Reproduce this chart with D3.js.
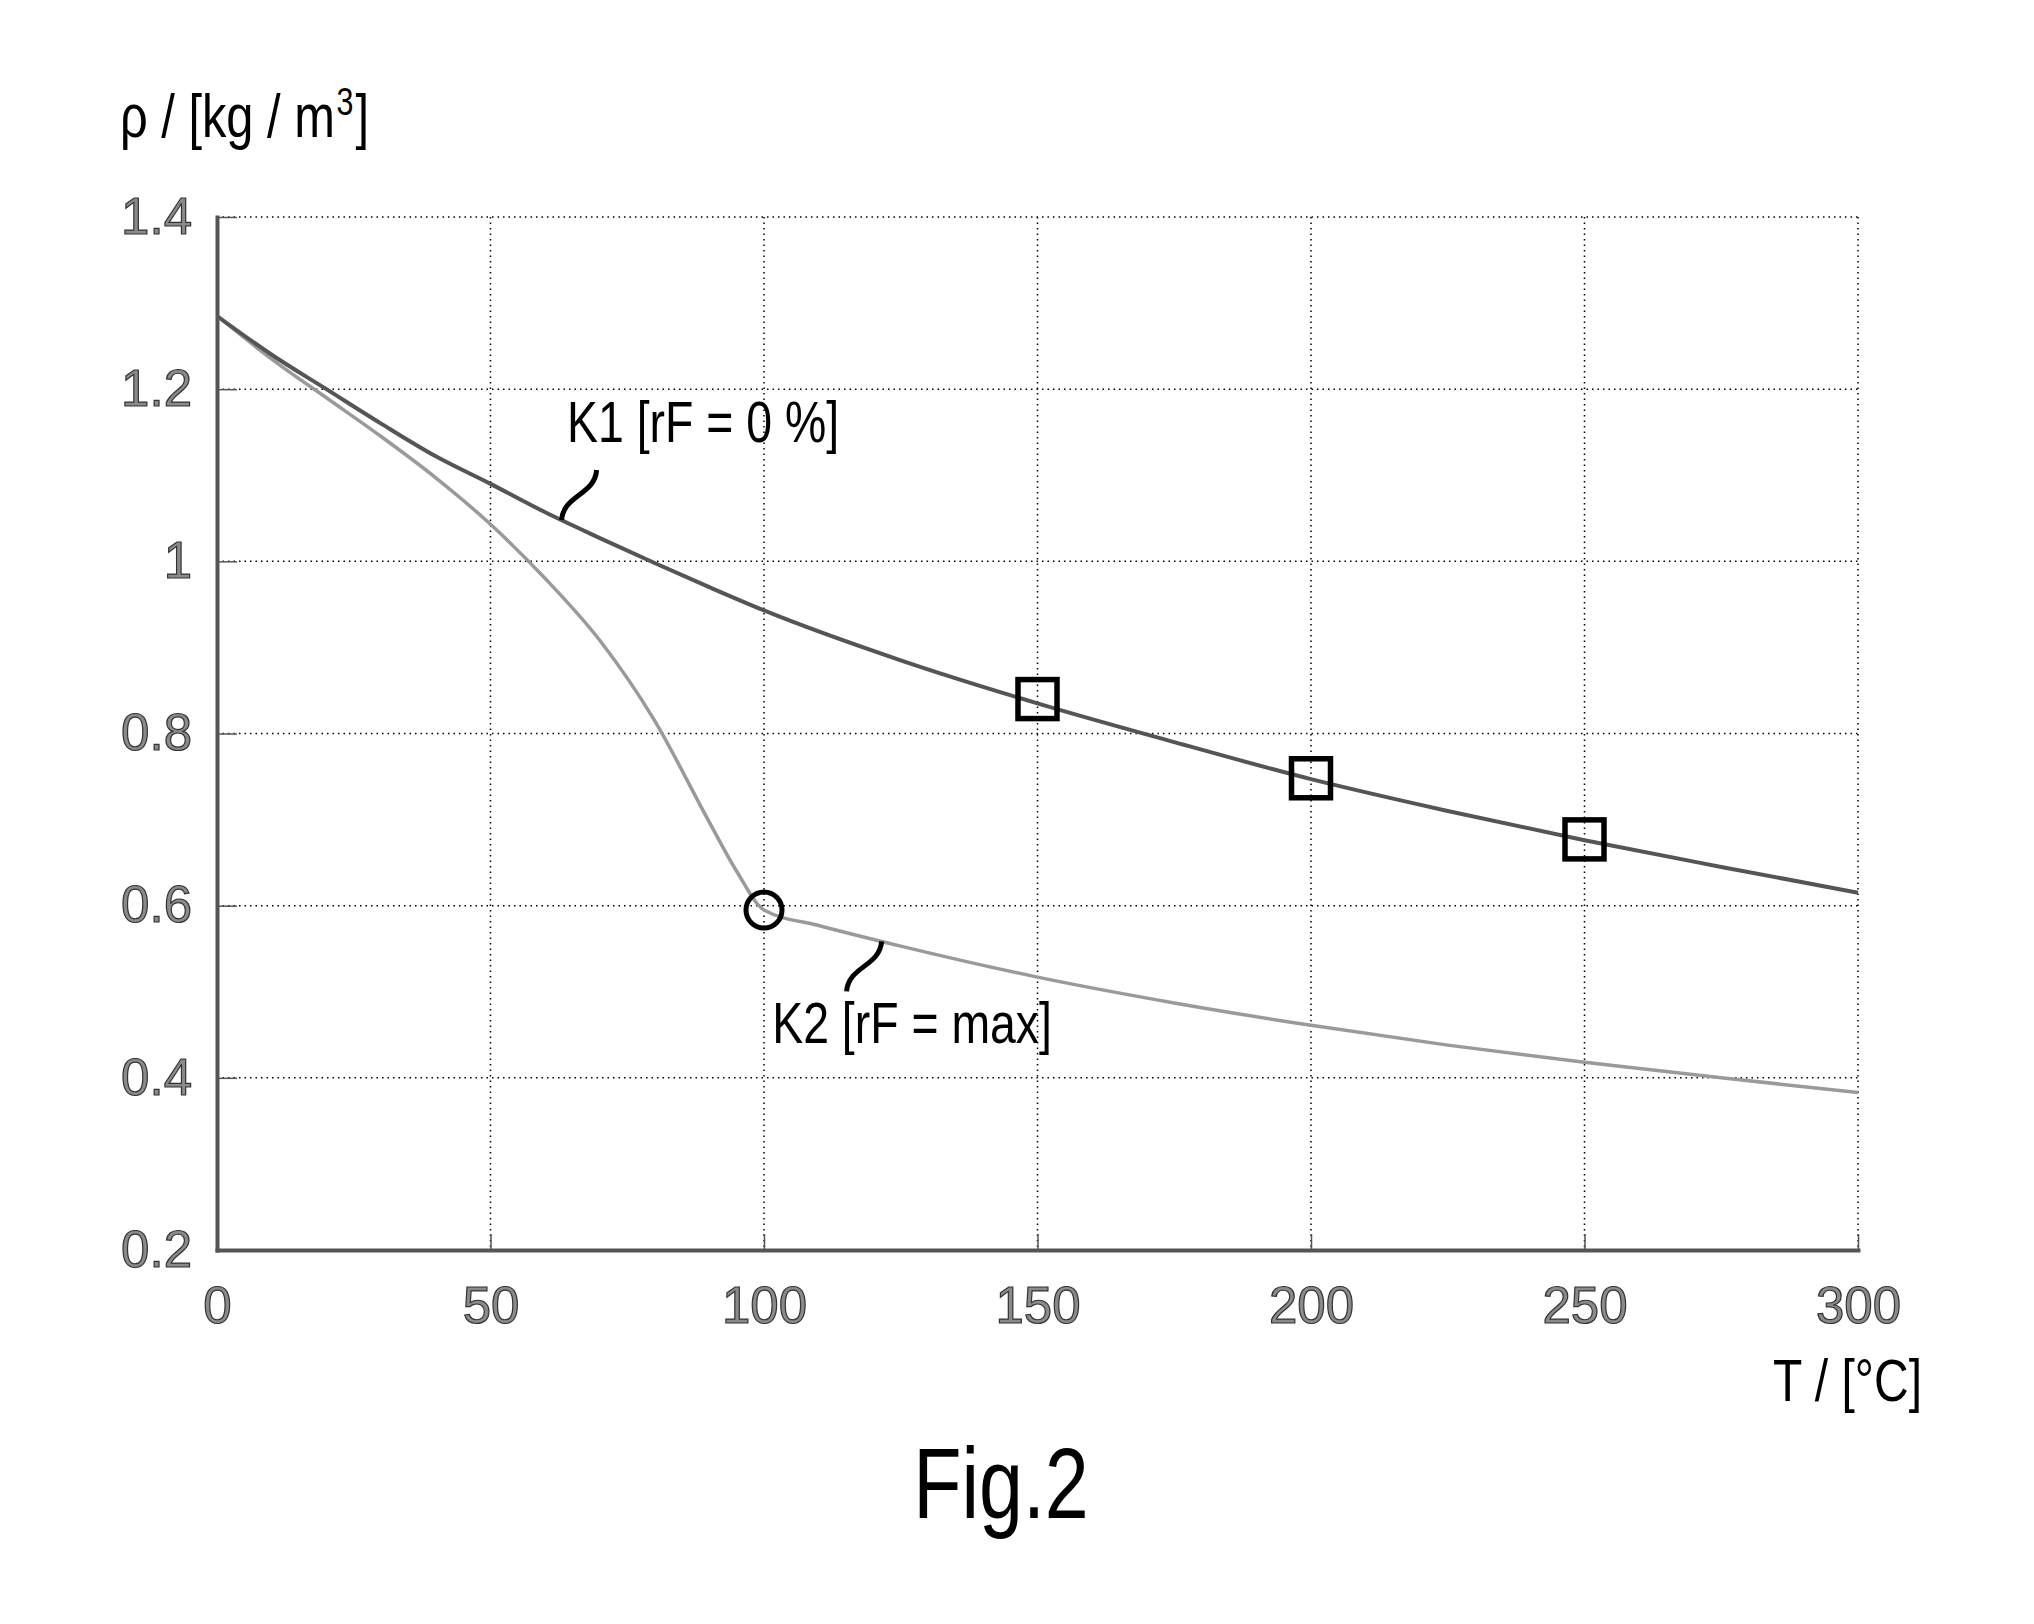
<!DOCTYPE html>
<html>
  <head>
    <meta charset="utf-8">
    <title>Fig.2</title>
    <script type="text/javascript" src="https://d3js.org/d3.v7.min.js"></script>
    <style>
      body {
        margin: 0;
        background: #fff;
      }
      text {
        font-family: "Liberation Sans", Arial, sans-serif;
      }
      .grid line {
        stroke: #000;
        stroke-width: 1.5;
        stroke-dasharray: 1.5,4;
      }
      .axis path, .axis line {
        stroke: #555;
      }
      .axis path {
        stroke-width: 4;
      }
      .axis line {
        stroke-width: 1.5;
      }
      .axis text {
        font-size: 51px;
        fill: #8a8a8a;
        stroke: #333;
        stroke-width: 1.2;
      }
    </style>
  </head>
  <body>
    <div id="chart"></div>
    <script type="text/javascript">
        // temperature T in °C, density rho in kg/m3
        var k1Temps = [0, 10, 20, 30, 40, 50, 60, 70, 80, 90, 100, 125, 150, 175, 200, 225, 250, 275, 300];
        var k1Density = [1.285, 1.24, 1.2, 1.16, 1.122, 1.09, 1.057, 1.027, 0.998, 0.97, 0.943, 0.885, 0.835, 0.79, 0.747, 0.71, 0.676, 0.645, 0.615];

        var k2Temps = [0, 10, 20, 30, 40, 50, 60, 70, 80, 90, 95, 100, 110, 125, 150, 175, 200, 225, 250, 275, 300];
        var k2Density = [1.285, 1.235, 1.19, 1.145, 1.097, 1.043, 0.98, 0.908, 0.815, 0.697, 0.64, 0.595, 0.577, 0.553, 0.517, 0.487, 0.461, 0.438, 0.418, 0.4, 0.383];

        var squareTemps = [150, 200, 250];
        var squareDensity = [0.84, 0.748, 0.677];
        var circleTemps = [100];
        var circleDensity = [0.595];

        var xTicks = [0, 50, 100, 150, 200, 250, 300];
        var yTicks = [0.2, 0.4, 0.6, 0.8, 1, 1.2, 1.4];

        var width = 2034;
        var height = 1624;
        var margin = {top: 217, right: 176, bottom: 374, left: 217};
        var narrow = 0.8;

        var svg = d3.select('#chart')
          .append('svg')
          .attr('width', width)
          .attr('height', height);

        svg.append('rect')
          .attr('width', width)
          .attr('height', height)
          .attr('fill', '#fff');

        var x = d3.scaleLinear()
          .domain([0, 300])
          .range([margin.left, width - margin.right]);

        var y = d3.scaleLinear()
          .domain([0.2, 1.4])
          .range([height - margin.bottom, margin.top]);

        // dotted grid, also gives the top and right frame
        var grid = svg.append('g').attr('class', 'grid');
        grid.selectAll('.vx')
          .data(xTicks.slice(1))
          .enter()
          .append('line')
          .attr('x1', function(d) { return x(d); })
          .attr('x2', function(d) { return x(d); })
          .attr('y1', y(1.4))
          .attr('y2', y(0.2));
        grid.selectAll('.hy')
          .data(yTicks.slice(1))
          .enter()
          .append('line')
          .attr('x1', x(0))
          .attr('x2', x(300))
          .attr('y1', function(d) { return y(d); })
          .attr('y2', function(d) { return y(d); });

        svg.append('g')
          .attr('class', 'axis')
          .attr('transform', 'translate(0,' + y(0.2) + ')')
          .call(d3.axisBottom(x)
            .tickValues(xTicks)
            .tickSizeInner(-16)
            .tickSizeOuter(0)
            .tickPadding(37)
            .tickFormat(d3.format('d')));

        svg.append('g')
          .attr('class', 'axis')
          .attr('transform', 'translate(' + x(0) + ',0)')
          .call(d3.axisLeft(y)
            .tickValues(yTicks)
            .tickSizeInner(-20)
            .tickSizeOuter(0)
            .tickPadding(25)
            .tickFormat(function(d) { return String(d); }));

        svg.selectAll('.axis .domain').attr('stroke-linecap', 'square');

        var line = d3.line()
          .x(function(d) { return x(d[0]); })
          .y(function(d) { return y(d[1]); })
          .curve(d3.curveMonotoneX);

        svg.append('path')
          .datum(d3.zip(k2Temps, k2Density))
          .attr('d', line)
          .attr('fill', 'none')
          .attr('stroke', '#9a9a9a')
          .attr('stroke-width', 3.5);

        svg.append('path')
          .datum(d3.zip(k1Temps, k1Density))
          .attr('d', line)
          .attr('fill', 'none')
          .attr('stroke', '#555')
          .attr('stroke-width', 4);

        var sq = 39;
        svg.selectAll('.marker-sq')
          .data(d3.zip(squareTemps, squareDensity))
          .enter()
          .append('rect')
          .attr('x', function(d) { return x(d[0]) - sq / 2; })
          .attr('y', function(d) { return y(d[1]) - sq / 2; })
          .attr('width', sq)
          .attr('height', sq)
          .attr('fill', 'none')
          .attr('stroke', '#000')
          .attr('stroke-width', 5.5);

        svg.selectAll('.marker-ci')
          .data(d3.zip(circleTemps, circleDensity))
          .enter()
          .append('circle')
          .attr('cx', function(d) { return x(d[0]); })
          .attr('cy', function(d) { return y(d[1]); })
          .attr('r', 18)
          .attr('fill', 'none')
          .attr('stroke', '#000')
          .attr('stroke-width', 5);

        // curve labels with squiggly leaders
        function leader(x0, y0, x1, y1) {
          var dx = x1 - x0, dy = y1 - y0;
          return 'M' + x0 + ',' + y0 +
            ' C' + (x0 + dx * 0.05) + ',' + (y0 + dy * 0.5) +
            ' ' + (x0 + dx * 0.95) + ',' + (y0 + dy * 0.5) +
            ' ' + x1 + ',' + y1;
        }

        var k1At = 63;
        var k1y = y(d3.interpolateNumber(1.057, 1.027)(0.3));
        svg.append('path')
          .attr('d', leader(x(k1At), k1y, x(k1At) + 35, k1y - 50))
          .attr('fill', 'none')
          .attr('stroke', '#000')
          .attr('stroke-width', 5);

        var k2At = 121.5;
        var k2y = y(d3.interpolateNumber(0.577, 0.553)(0.77));
        svg.append('path')
          .attr('d', leader(x(k2At) - 35, k2y + 50, x(k2At), k2y))
          .attr('fill', 'none')
          .attr('stroke', '#000')
          .attr('stroke-width', 5);

        function squeeze(t, f) {
          t.each(function() {
            var len = this.getComputedTextLength();
            d3.select(this)
              .attr('textLength', len * f)
              .attr('lengthAdjust', 'spacingAndGlyphs');
          });
          return t;
        }

        squeeze(svg.append('text')
          .attr('x', x(64))
          .attr('y', y(1.139))
          .style('font-size', '58px')
          .text('K1 [rF = 0 %]'), narrow);

        squeeze(svg.append('text')
          .attr('x', x(101.5))
          .attr('y', y(0.44))
          .style('font-size', '58px')
          .text('K2 [rF = max]'), narrow);

        // y axis title: squeezed with a transform so the superscript keeps its place
        var yl = svg.append('g')
          .attr('transform', 'translate(120,137) scale(' + narrow + ',1)');
        yl.append('text')
          .style('font-size', '61px')
          .text('ρ / [kg / m');
        var mw = yl.select('text').node().getComputedTextLength();
        yl.append('text')
          .attr('x', mw + 2)
          .attr('y', -22)
          .style('font-size', '38px')
          .text('3');
        yl.append('text')
          .attr('x', mw + 26)
          .style('font-size', '61px')
          .text(']');

        squeeze(svg.append('text')
          .attr('x', 1922)
          .attr('y', 1401)
          .attr('text-anchor', 'end')
          .style('font-size', '60px')
          .text('T / [°C]'), narrow);

        squeeze(svg.append('text')
          .attr('x', 1001)
          .attr('y', 1518)
          .attr('text-anchor', 'middle')
          .style('font-size', '100px')
          .text('Fig.2'), 0.79);
    </script>
  </body>
</html>
